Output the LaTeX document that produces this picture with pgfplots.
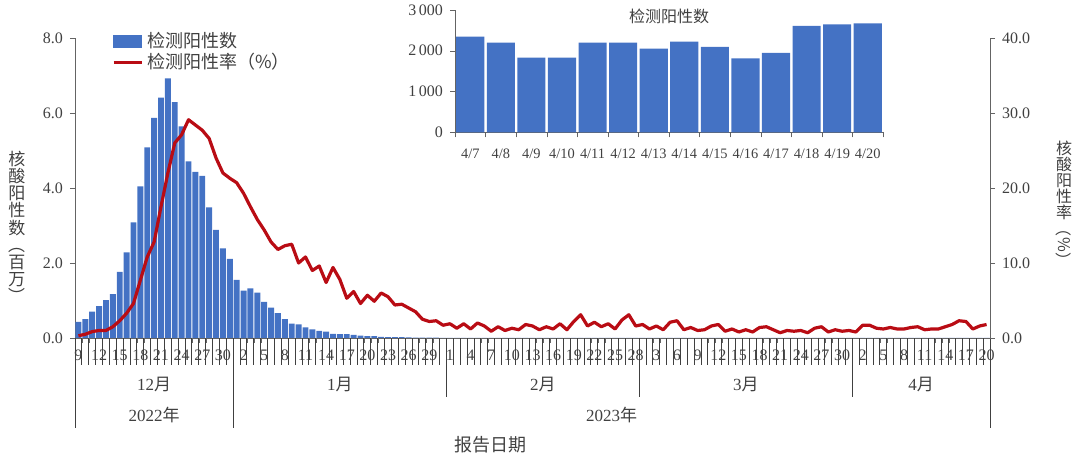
\documentclass[border=0pt]{standalone}
\usepackage{pgfplots}
\pgfplotsset{compat=1.18}
\usepackage{pgfplotstable}
\usepackage{graphicx}
\usepackage{fontspec}
\setmainfont{Liberation Serif}
\newfontfamily\cjk{Noto Sans CJK SC}

\definecolor{barblue}{RGB}{68,114,196}
\definecolor{linered}{RGB}{185,12,20}
\definecolor{axisgray}{RGB}{100,100,100}
\definecolor{textgray}{RGB}{64,64,64}

% i = day since 2022-12-09, n = positives (millions), r = positive rate (%)
\pgfplotstableread{
i n r
0 0.43 0.3
1 0.50 0.5
2 0.70 0.85
3 0.85 1.0
4 1.01 1.0
5 1.17 1.5
6 1.76 2.3
7 2.28 3.3
8 3.08 4.6
9 4.04 7.7
10 5.08 10.8
11 5.87 12.8
12 6.41 17.5
13 6.92 22.0
14 6.29 26.0
15 5.64 27.1
16 4.71 29.1
17 4.43 28.4
18 4.32 27.7
19 3.48 26.6
20 2.88 24.0
21 2.39 22.0
22 2.11 21.3
23 1.55 20.7
24 1.26 19.3
25 1.32 17.5
26 1.21 15.8
27 0.96 14.4
28 0.81 12.8
29 0.66 11.8
30 0.50 12.3
31 0.38 12.5
32 0.36 10.0
33 0.28 10.8
34 0.23 9.0
35 0.19 9.6
36 0.17 7.4
37 0.11 9.4
38 0.10 7.8
39 0.10 5.3
40 0.08 6.2
41 0.06 4.6
42 0.05 5.7
43 0.05 4.9
44 0.03 6.0
45 0.025 5.5
46 0.02 4.4
47 0.02 4.5
48 0.015 4.0
49 0.012 3.5
50 0.010 2.5
51 0.008 2.2
52 0.007 2.3
53 0.006 1.7
54 0.005 1.9
55 0.005 1.3
56 0.004 1.9
57 0.004 1.2
58 0.004 2.0
59 0.004 1.6
60 0.003 0.9
61 0.003 1.5
62 0.003 1.0
63 0.003 1.3
64 0.003 1.1
65 0.003 1.8
66 0.003 1.6
67 0.003 1.1
68 0.003 1.5
69 0.003 1.2
70 0.003 1.9
71 0.003 1.1
72 0.003 2.2
73 0.004 3.1
74 0.003 1.6
75 0.003 2.1
76 0.003 1.5
77 0.003 1.9
78 0.003 1.2
79 0.003 2.4
80 0.004 3.1
81 0.003 1.6
82 0.003 1.8
83 0.003 1.2
84 0.003 1.6
85 0.003 1.1
86 0.003 2.1
87 0.003 2.3
88 0.002 1.1
89 0.002 1.4
90 0.002 1.0
91 0.002 1.1
92 0.002 1.6
93 0.002 1.8
94 0.002 0.9
95 0.002 1.2
96 0.002 0.8
97 0.002 1.1
98 0.002 0.8
99 0.002 1.4
100 0.002 1.5
101 0.002 1.1
102 0.002 0.7
103 0.002 1.0
104 0.002 0.9
105 0.002 1.0
106 0.002 0.7
107 0.002 1.3
108 0.002 1.5
109 0.002 0.8
110 0.002 1.1
111 0.002 0.9
112 0.002 1.0
113 0.002 0.8
114 0.002 1.7
115 0.002 1.7
116 0.002 1.3
117 0.002 1.2
118 0.002 1.4
119 0.0023 1.2
120 0.0022 1.2
121 0.0018 1.4
122 0.0018 1.5
123 0.0022 1.1
124 0.0022 1.2
125 0.0021 1.2
126 0.0022 1.5
127 0.0021 1.8
128 0.0018 2.3
129 0.0019 2.2
130 0.0026 1.2
131 0.0026 1.6
132 0.0027 1.8
}\maindata

% April 7 - April 20 positives
\pgfplotstableread{
i n
0 2347
1 2200
2 1832
3 1832
4 2200
5 2200
6 2052
7 2224
8 2093
9 1815
10 1946
11 2608
12 2649
13 2674
}\aprdata

\pgfplotsset{
  tickfont/.style={font=\fontsize{8}{9}\selectfont, text=textgray},
}

\begin{document}
\begin{tikzpicture}
\path[use as bounding box] (0,0) rectangle (540pt,229.5pt);

\begin{axis}[
  at={(37.5pt,60.5pt)}, anchor=south west,
  width=457.5pt, height=150pt, scale only axis,
  xmin=-0.5, xmax=132.5, ymin=0, ymax=8,
  axis x line*=bottom, axis y line*=left,
  axis line style={draw=axisgray, -},
  clip=false,
  tick align=outside,
  major tick length=2.5pt,
  tick style={draw=axisgray},
  xtick={-0.5,0.5,...,132.5},
  xticklabels={9,,,12,,,15,,,18,,,21,,,24,,,27,,,30,,,2,,,5,,,8,,,11,,,14,,,17,,,20,,,23,,,26,,,29,,,1,,,4,,,7,,,10,,,13,,,16,,,19,,,22,,,25,,,28,,,3,,,6,,,9,,,12,,,15,,,18,,,21,,,24,,,27,,,30,,,2,,,5,,,8,,,11,,,14,,,17,,,20,},
  xticklabel style={tickfont, xshift=1.72pt},
  ytick={0,2,4,6,8},
  yticklabel style={tickfont, /pgf/number format/fixed, /pgf/number format/fixed zerofill, /pgf/number format/precision=1},
  /pgf/number format/assume math mode=true,
]
\addplot[ybar, bar width=0.86, fill=barblue, draw=none] table[x=i, y=n] {\maindata};

% day ticks
\pgfplotsinvokeforeach{0,...,133}{
  \draw[black!75, line width=0.5pt] (axis cs:#1-0.5,0) -- ++(0pt,-13.5pt);
}
% month and year separators
\draw[textgray] (axis cs:-0.5,0) -- ([yshift=-45pt]axis cs:-0.5,0);
\draw[textgray] (axis cs:22.5,0) -- ([yshift=-45pt]axis cs:22.5,0);
\draw[textgray] (axis cs:132.5,0) -- ([yshift=-45pt]axis cs:132.5,0);
\draw[textgray] (axis cs:53.5,0) -- ([yshift=-29.5pt]axis cs:53.5,0);
\draw[textgray] (axis cs:81.5,0) -- ([yshift=-29.5pt]axis cs:81.5,0);
\draw[textgray] (axis cs:112.5,0) -- ([yshift=-29.5pt]axis cs:112.5,0);
\node[font=\fontsize{8.5}{9}\selectfont, text=textgray] at ([yshift=-23.5pt]axis cs:11,0) {12{\cjk 月}};
\node[font=\fontsize{8.5}{9}\selectfont, text=textgray] at ([yshift=-23.5pt]axis cs:38,0) {1{\cjk 月}};
\node[font=\fontsize{8.5}{9}\selectfont, text=textgray] at ([yshift=-23.5pt]axis cs:67.5,0) {2{\cjk 月}};
\node[font=\fontsize{8.5}{9}\selectfont, text=textgray] at ([yshift=-23.5pt]axis cs:97,0) {3{\cjk 月}};
\node[font=\fontsize{8.5}{9}\selectfont, text=textgray] at ([yshift=-23.5pt]axis cs:122.5,0) {4{\cjk 月}};
\node[font=\fontsize{8.5}{9}\selectfont, text=textgray] at ([yshift=-38.5pt]axis cs:11,0) {2022{\cjk 年}};
\node[font=\fontsize{8.5}{9}\selectfont, text=textgray] at ([yshift=-38.5pt]axis cs:77.5,0) {2023{\cjk 年}};
\end{axis}

\begin{axis}[
  at={(37.5pt,60.5pt)}, anchor=south west,
  width=457.5pt, height=150pt, scale only axis,
  xmin=-0.5, xmax=132.5, ymin=0, ymax=40,
  axis x line=none, axis y line*=right,
  axis line style={draw=axisgray, -},
  tick align=outside,
  major tick length=2.5pt,
  ytick={0,10,20,30,40},
  ytick style={draw=axisgray},
  yticklabel style={tickfont, /pgf/number format/fixed, /pgf/number format/fixed zerofill, /pgf/number format/precision=1},
  /pgf/number format/assume math mode=true,
  legend style={at={(0.04,1.035)}, anchor=north west, draw=none, fill=none,
    font=\cjk\fontsize{9}{10}\selectfont, text=textgray, row sep=-2.5pt, inner sep=0pt},
  legend cell align=left,
]
\addlegendimage{legend image code/.code={\fill[barblue] (0pt,-3pt) rectangle (14pt,3pt);}}
\addlegendentry{检测阳性数}
\addplot[linered, line width=1.6pt, line join=round,
  legend image code/.code={\draw[linered, line width=1.6pt] (0pt,0pt) -- (14pt,0pt);}]
  table[x=i, y=r] {\maindata};
\addlegendentry{检测阳性率（\%）}
\end{axis}

\begin{axis}[
  at={(227.5pt,163.35pt)}, anchor=south west,
  width=214pt, height=61.15pt, scale only axis,
  xmin=-0.5, xmax=13.5, ymin=0, ymax=3000,
  axis x line*=bottom, axis y line*=left,
  axis line style={draw=axisgray, -},
  clip=false,
  tick align=outside,
  major tick length=2.5pt,
  tick style={draw=axisgray},
  xtick={-0.5,0.5,...,13.5},
  xticklabels={4/7,4/8,4/9,4/10,4/11,4/12,4/13,4/14,4/15,4/16,4/17,4/18,4/19,4/20,},
  xticklabel style={font=\fontsize{7.2}{8}\selectfont, text=textgray, xshift=7.64pt, yshift=-2.5pt},
  ytick={0,1000,2000,3000},
  yticklabel style={tickfont, /pgf/number format/1000 sep={\,}},
  /pgf/number format/assume math mode=true,
]
\addplot[ybar, bar width=0.92, fill=barblue, draw=none] table[x=i, y=n] {\aprdata};
\node[font=\cjk\fontsize{8}{9}\selectfont, text=textgray] at (rel axis cs:0.5,0.951) {检测阳性数};
\end{axis}

% axis titles, set vertically
\node[font=\cjk\fontsize{8.5}{8.6}\selectfont, text=textgray, align=center] at (8.5pt,115.5pt)
  {核\\酸\\阳\\性\\数\\\rotatebox[origin=c]{-90}{（}\\百\\万\\\rotatebox[origin=c]{-90}{）}};
\node[font=\cjk\fontsize{8}{8}\selectfont, text=textgray, align=center] at (532pt,127pt)
  {核\\酸\\阳\\性\\率\\\rotatebox[origin=c]{-90}{（}\\\rotatebox[origin=c]{-90}{\%}\\\rotatebox[origin=c]{-90}{）}};
\node[font=\cjk\fontsize{9}{10}\selectfont, text=textgray] at (245pt,7pt) {报告日期};
\end{tikzpicture}
\end{document}
